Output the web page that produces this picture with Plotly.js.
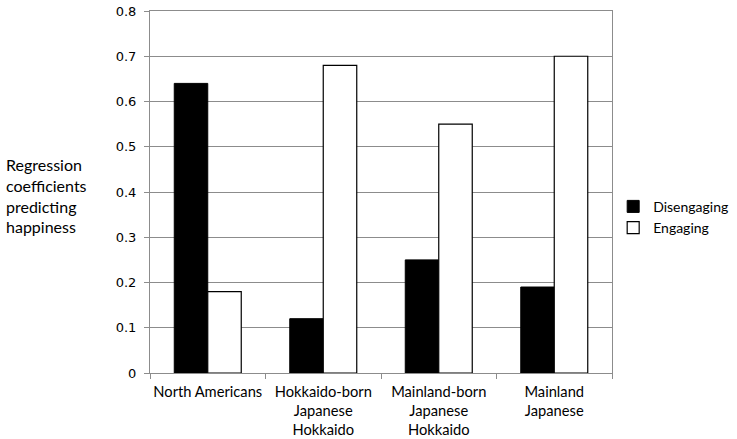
<!DOCTYPE html>
<html>
<head>
<meta charset="utf-8">
<script src="https://cdn.plot.ly/plotly-3.0.1.min.js"></script>
<style>
  html, body { margin: 0; padding: 0; background: #fff; }
  #chart { width: 737px; height: 439px; }
</style>
</head>
<body>
<div id="chart"></div>
<script>
// groups along the x axis
const groups = [
    'North Americans',
    'Hokkaido-born<br>Japanese<br>Hokkaido',
    'Mainland-born<br>Japanese<br>Hokkaido',
    'Mainland<br>Japanese',
];

// regression coefficients
const disengaging = [0.64, 0.12, 0.25, 0.19];
const engaging = [0.18, 0.68, 0.55, 0.70];

const yTicks = [0, 0.1, 0.2, 0.3, 0.4, 0.5, 0.6, 0.7, 0.8];
const yTickText = ['0', '0.1', '0.2', '0.3', '0.4', '0.5', '0.6', '0.7', '0.8'];

const labelFont = "Lato, 'Open Sans', sans-serif";

const data = [
    {
        x: groups,
        y: disengaging,
        type: 'bar',
        name: 'Disengaging',
        marker: {
            color: '#000000',
            line: { color: '#000000', width: 1 },
        },
        hoverinfo: 'none',
    },
    {
        x: groups,
        y: engaging,
        type: 'bar',
        name: 'Engaging',
        marker: {
            color: '#ffffff',
            line: { color: '#000000', width: 1.2 },
        },
        hoverinfo: 'none',
    },
];

const layout = {
    width: 737,
    height: 439,
    margin: { l: 150, r: 125, t: 11, b: 66, autoexpand: false },
    paper_bgcolor: '#ffffff',
    plot_bgcolor: '#ffffff',
    barmode: 'group',
    bargap: 0.42,
    bargroupgap: 0,
    font: { family: labelFont, size: 15, color: '#000000' },
    xaxis: {
        type: 'category',
        showline: true,
        linecolor: '#8c8c8c',
        linewidth: 1,
        mirror: true,
        ticks: 'outside',
        tickson: 'boundaries',
        ticklen: 5,
        tickcolor: '#8c8c8c',
        tickangle: 0,
        ticklabelstandoff: 5,
        automargin: false,
        showgrid: false,
        tickfont: { family: labelFont, size: 14.7, color: '#000000' },
        fixedrange: true,
    },
    yaxis: {
        range: [0, 0.8],
        tickvals: yTicks,
        ticktext: yTickText,
        showline: true,
        linecolor: '#8c8c8c',
        linewidth: 1,
        mirror: true,
        ticks: 'outside',
        ticklen: 5,
        tickcolor: '#8c8c8c',
        showgrid: true,
        gridcolor: '#8c8c8c',
        gridwidth: 1,
        zeroline: false,
        automargin: false,
        ticklabelstandoff: 5,
        tickfont: { family: "'DejaVu Sans', Verdana, sans-serif", size: 13, color: '#000000' },
        fixedrange: true,
    },
    showlegend: true,
    legend: {
        xref: 'container',
        yref: 'container',
        x: 0.832,
        xanchor: 'left',
        y: 0.505,
        yanchor: 'middle',
        font: { family: labelFont, size: 14, color: '#000000' },
        bgcolor: 'rgba(0,0,0,0)',
        tracegroupgap: 0,
        itemwidth: 30,
    },
    annotations: [
        {
            text: 'Regression<br>coefficients<br>predicting<br>happiness',
            xref: 'paper',
            yref: 'paper',
            x: -0.316,
            xanchor: 'left',
            y: 0.49,
            yanchor: 'middle',
            align: 'left',
            showarrow: false,
            font: { family: labelFont, size: 16, color: '#000000' },
        },
    ],
};

Plotly.newPlot('chart', data, layout, { displayModeBar: false, staticPlot: true });
</script>
</body>
</html>
